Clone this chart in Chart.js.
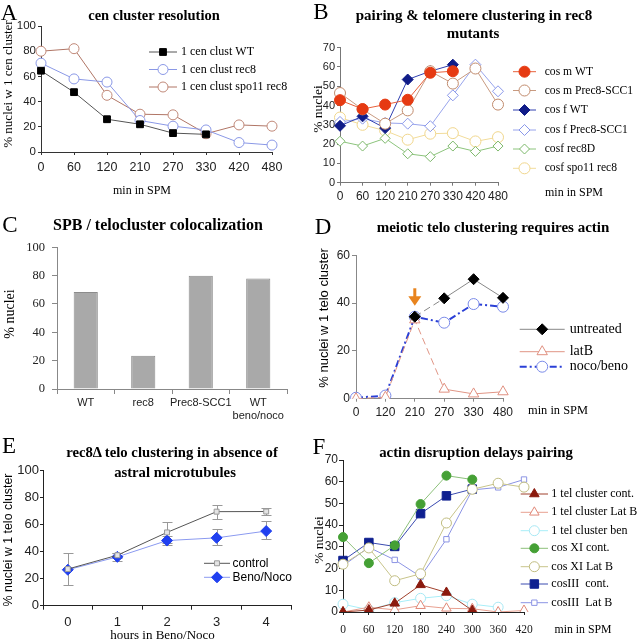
<!DOCTYPE html>
<html>
<head>
<meta charset="utf-8">
<script src="https://cdn.jsdelivr.net/npm/chart.js@4.4.0/dist/chart.umd.min.js"></script>
<style>
body { margin: 0; background: #fff; }
#fig { position: relative; width: 637px; height: 640px; overflow: hidden; background: #fff; }
#fig canvas { position: absolute; }
.t { position: absolute; white-space: nowrap; transform: translate(-50%, -50%); line-height: 1; color: #000; z-index: 2; }
.serif { font-family: "Liberation Serif", "Times New Roman", serif; }
.sans { font-family: "Liberation Sans", Arial, sans-serif; }
.b { font-weight: bold; }
.rot { transform: translate(-50%, -50%) rotate(-90deg); }
.letter { font-size: 23px; }
</style>
</head>
<body>
<div id="fig">
  <canvas id="cA" width="318" height="210" style="left:0;top:0"></canvas>
  <canvas id="cB" width="319" height="210" style="left:318px;top:0"></canvas>
  <canvas id="cC" width="318" height="210" style="left:0;top:210px"></canvas>
  <canvas id="cD" width="319" height="210" style="left:318px;top:210px"></canvas>
  <canvas id="cE" width="318" height="220" style="left:0;top:420px"></canvas>
  <canvas id="cF" width="319" height="220" style="left:318px;top:420px"></canvas>

  <!-- panel A -->
  <div class="t serif letter" style="left:9px;top:12px">A</div>
  <div class="t serif b" style="left:154px;top:15px;font-size:14.5px">cen cluster resolution</div>
  <div class="t serif rot" style="left:7px;top:84px;font-size:13px">% nuclei w 1 cen cluster</div>
  <div class="t serif" style="left:142px;top:190px;font-size:12px">min in SPM</div>

  <!-- panel B -->
  <div class="t serif letter" style="left:321px;top:11px">B</div>
  <div class="t serif b" style="left:474px;top:15px;font-size:15px">pairing &amp; telomere clustering in rec8</div>
  <div class="t serif b" style="left:473px;top:33px;font-size:15px">mutants</div>
  <div class="t serif rot" style="left:317.5px;top:109px;font-size:13.5px">% nuclei</div>
  <div class="t serif" style="left:574px;top:192px;font-size:12px">min in SPM</div>

  <!-- panel C -->
  <div class="t serif letter" style="left:10px;top:224px">C</div>
  <div class="t serif b" style="left:158px;top:225px;font-size:16px">SPB / telocluster colocalization</div>
  <div class="t serif rot" style="left:10px;top:314px;font-size:14px">% nuclei</div>

  <!-- panel D -->
  <div class="t serif letter" style="left:323px;top:226px">D</div>
  <div class="t serif b" style="left:493px;top:227px;font-size:15px">meiotic telo clustering requires actin</div>
  <div class="t sans rot" style="left:322.5px;top:318px;font-size:13px">% nuclei w 1 telo cluster</div>
  <div class="t serif" style="left:558px;top:410px;font-size:12.4px">min in SPM</div>

  <!-- panel E -->
  <div class="t serif letter" style="left:9px;top:445px">E</div>
  <div class="t serif b" style="left:172px;top:452px;font-size:14.7px">rec8&Delta; telo clustering in absence of</div>
  <div class="t serif b" style="left:175px;top:472px;font-size:14.7px">astral microtubules</div>
  <div class="t sans rot" style="left:8px;top:540px;font-size:12.4px">% nuclei w 1 telo cluster</div>
  <div class="t serif" style="left:162.5px;top:633.5px;font-size:13px">hours in Beno/Noco</div>

  <!-- panel F -->
  <div class="t serif letter" style="left:319px;top:446px">F</div>
  <div class="t serif b" style="left:476px;top:452px;font-size:14.8px">actin disruption delays pairing</div>
  <div class="t serif rot" style="left:319px;top:540px;font-size:13.5px">% nuclei</div>
  <div class="t serif" style="left:583px;top:629.5px;font-size:11.8px">min in SPM</div>
</div>

<script>
// A: cen cluster resolution
const minA = ['0', '60', '120', '210', '270', '330', '420', '480'];
const cenWT = [64.5, 47.5, 26, 22, 15, 14];
const cenRec8 = [70.5, 58, 55.5, 25, 20.5, 17.5, 7.5, 5.5];
const cenSpo11Rec8 = [80, 82, 45, 30, 29.5, 14.5, 21.5, 20.5];

// B: pairing & telomere clustering in rec8 mutants
const minB = ['0', '60', '120', '210', '270', '330', '420', '480'];
const cosmWT = [42.8, 38.2, 40.5, 43, 57, 57.8];
const cosmPrec8 = [46.5, 38, 30.6, 37.5, 57.8, 51.4, 59.2, 40.5];
const cosfWT = [29.5, 34.4, 28.3, 53.5, 57.8, 61.2];
const cosfPrec8 = [31.5, 33.2, 31, 30.6, 29.3, 45.3, 61.2, 47.4];
const cosfRec8D = [21.5, 19, 23, 15, 13.5, 19, 16.2, 19];
const cosfSpo11Rec8 = [33.8, 30, 27, 22.3, 25.4, 25.7, 21.4, 23.6];

// C: SPB / telocluster colocalization
const groupsC = ['WT', 'rec8', 'Prec8-SCC1', ['WT', 'beno/noco']];
const colocC = [68.5, 23.5, 80, 78];

// D: meiotic telo clustering requires actin
const minD = ['0', '120', '210', '270', '330', '480'];
const untreated = [null, null, 34.3, 42, 50, 42.2];
const latB = [0, 0.6, 33, 4, 2, 2.9];
const nocoBeno = [0.4, 1.3, 34.3, 31.8, 39.6, 38.5];
const arrowAt = '210';
const arrowFrom = 46.2;
const arrowTo = 38.9;

// E: rec8 telo clustering in absence of astral microtubules
const hoursE = ['0', '1', '2', '3', '4'];
const controlE = [27, 37.2, 54, 69.3, 69.4];
const controlLow = [15, 35.4, 46.4, 63.7, 66.5];
const controlHigh = [39, 39, 61.7, 74, 72.2];
const benoE = [26.5, 36, 48, 50, 55];
const benoLow = [26.5, 33, 44.7, 44.5, 48.9];
const benoHigh = [26.5, 39, 51, 56.8, 62.6];

// F: actin disruption delays pairing
const minF = ['0', '60', '120', '180', '240', '300', '360', '420'];
const telCont = [0, 0.9, 4, 12.5, 9, 0.7];
const telLatB = [0, 2.2, 1, 2.9, 1.7, 1.5, 0, 0.7];
const telBen = [3.6, 1, 4.3, 6.3, 7.5, 3.6, 2.2];
const cosXICont = [34.5, 22.5, 30.7, 49.7, 62.8, 61];
const cosXILatB = [22, 29.5, 14.4, 17.6, 41, 56.5, 59.3, 57.5];
const cosIIICont = [23.7, 32, 30.2, 45.3, 53.5, 56.6];
const cosIIILatB = [21.3, 29.8, 24, 16.3, 33.5, 56.2, 57.4, 61];

const SERIF = '"Liberation Serif", "Times New Roman", serif';
const SANS = '"Liberation Sans", Arial, sans-serif';

function drawMarker(ctx, style, x, y, r, fill, stroke, lw) {
    ctx.beginPath();
    if (style === 'rect') {
        const s = r * Math.SQRT1_2;
        ctx.rect(x - s, y - s, 2 * s, 2 * s);
    } else if (style === 'rectRot') {
        ctx.moveTo(x - r, y); ctx.lineTo(x, y - r); ctx.lineTo(x + r, y); ctx.lineTo(x, y + r);
        ctx.closePath();
    } else if (style === 'triangle') {
        let a = 0;
        ctx.moveTo(x + Math.sin(a) * r, y - Math.cos(a) * r);
        a += 2 * Math.PI / 3;
        ctx.lineTo(x + Math.sin(a) * r, y - Math.cos(a) * r);
        a += 2 * Math.PI / 3;
        ctx.lineTo(x + Math.sin(a) * r, y - Math.cos(a) * r);
        ctx.closePath();
    } else {
        ctx.arc(x, y, r, 0, Math.PI * 2);
    }
    ctx.fillStyle = fill; ctx.fill();
    ctx.lineWidth = lw; ctx.strokeStyle = stroke; ctx.stroke();
}

// legend drawn beside each panel, one row per dataset
const sideLegend = {
    id: 'sideLegend',
    afterDatasetsDraw(chart, args, o) {
        if (!o || !o.ys) return;
        const ctx = chart.ctx;
        ctx.save();
        chart.data.datasets.forEach((ds, k) => {
            const y = o.ys[k];
            ctx.strokeStyle = ds.borderColor;
            ctx.lineWidth = ds.borderWidth;
            ctx.setLineDash(ds.borderDash || []);
            ctx.beginPath(); ctx.moveTo(o.x0, y); ctx.lineTo(o.x1, y); ctx.stroke();
            ctx.setLineDash([]);
            drawMarker(ctx, ds.pointStyle, (o.x0 + o.x1) / 2, y, ds.pointRadius,
                ds.pointBackgroundColor, ds.pointBorderColor, ds.pointBorderWidth);
            ctx.fillStyle = '#000';
            ctx.font = o.font;
            ctx.textAlign = 'left';
            ctx.textBaseline = 'middle';
            ctx.fillText(ds.label, o.textX, y);
        });
        ctx.restore();
    }
};

function series(label, data, line, style, r, fill, mark, extra) {
    return Object.assign({
        label: label, data: data,
        borderColor: line, borderWidth: 1,
        pointStyle: style, pointRadius: r,
        pointBackgroundColor: fill, pointBorderColor: mark, pointBorderWidth: 1,
        tension: 0, fill: false
    }, extra || {});
}

function yAxis(box, min, max, step, font, color, tick, pad) {
    return {
        min: min, max: max,
        ticks: { stepSize: step, font: font, color: '#222', padding: pad },
        grid: { drawOnChartArea: false, tickLength: tick, color: color },
        border: { color: color },
        afterFit: s => { s.width = box.L; }
    };
}

function xAxis(box, H, font, color, tick, pad, offset) {
    return {
        offset: offset,
        ticks: { font: font, color: '#222', padding: pad, autoSkip: false, maxRotation: 0 },
        grid: { drawOnChartArea: false, tickLength: tick, color: color, offset: offset },
        border: { color: color },
        afterFit: s => { s.height = H - box.B; }
    };
}

function makeChart(id, type, labels, datasets, box, x, y, legend, extra) {
    const cv = document.getElementById(id);
    return new Chart(cv, {
        type: type,
        data: { labels: labels, datasets: datasets },
        options: {
            responsive: false,
            animation: false,
            devicePixelRatio: 1,
            layout: { padding: { left: 0, top: box.T, right: cv.width - box.R, bottom: 0 } },
            plugins: { legend: { display: false }, tooltip: { enabled: false }, sideLegend: legend || {} },
            scales: { x: x, y: y }
        },
        plugins: [sideLegend].concat(extra || [])
    });
}

// ---- A ----
const boxA = { L: 41, T: 26, R: 272, B: 152 };
makeChart('cA', 'line', minA, [
    series('1 cen clust WT', cenWT, '#555', 'rect', 4.8, '#000', '#000'),
    series('1 cen clust rec8', cenRec8, '#8a98e6', 'circle', 5, '#fff', '#8a98e6'),
    series('1 cen clust spo11 rec8', cenSpo11Rec8, '#b07565', 'circle', 5, '#fff', '#c08878')
], boxA,
    xAxis(boxA, 210, { family: SANS, size: 12.5 }, '#333', 3, 5.2, false),
    yAxis(boxA, 0, 100, 20, { family: SANS, size: 11.5 }, '#333', 3, 2),
    { x0: 149, x1: 177, textX: 181, ys: [52, 69.5, 87], font: '12px ' + SERIF });

// ---- B ----
const boxB = { L: 22, T: 47.7, R: 180, B: 182.7 };
makeChart('cB', 'line', minB, [
    series('cos m WT', cosmWT, '#e8603a', 'circle', 5.5, '#e63a12', '#e63a12'),
    series('cos m Prec8-SCC1', cosmPrec8, '#c89a80', 'circle', 5.5, '#fff', '#c08a6c'),
    series('cos f WT', cosfWT, '#3040b0', 'rectRot', 5.5, '#101c88', '#101c88'),
    series('cos f Prec8-SCC1', cosfPrec8, '#98a4ec', 'rectRot', 5.5, '#fff', '#8a98ea'),
    series('cosf rec8D', cosfRec8D, '#8cc47c', 'rectRot', 5, '#fff', '#7cb86a'),
    series('cosf spo11 rec8', cosfSpo11Rec8, '#f2dc9a', 'circle', 5.5, '#fff', '#f0d68c')
], boxB,
    xAxis(boxB, 210, { family: SANS, size: 12 }, '#777', 3, 3.8, false),
    yAxis(boxB, 0, 70, 10, { family: SANS, size: 11 }, '#777', 3, 2),
    { x0: 195, x1: 218, textX: 226.7, ys: [71.7, 90.5, 110, 130, 149, 168.3], font: '11.6px ' + SERIF });

// ---- C ----
const boxC = { L: 57, T: 37.3, R: 287, B: 179 };
makeChart('cC', 'bar', groupsC, [{
    label: '% nuclei', data: colocC,
    backgroundColor: '#a9a9a9', borderColor: '#8c8c8c', borderWidth: 1,
    barPercentage: 0.42, categoryPercentage: 1
}], boxC,
    xAxis(boxC, 210, { family: SANS, size: 11, lineHeight: 1.15 }, '#888', 5, 2.7, true),
    yAxis(boxC, 0, 100, 20, { family: SERIF, size: 12.5 }, '#888', 5, 7));

// ---- D ----
const boxD = { L: 38, T: 45.3, R: 185, B: 188.7 };
const arrowPlugin = {
    id: 'arrowMark',
    afterDatasetsDraw(chart) {
        const ctx = chart.ctx, xs = chart.scales.x, ys = chart.scales.y;
        const x = xs.getPixelForValue(minD.indexOf(arrowAt));
        const yTop = ys.getPixelForValue(arrowFrom), yTip = ys.getPixelForValue(arrowTo);
        const head = 9.5;
        ctx.save();
        ctx.fillStyle = '#e8841e';
        ctx.fillRect(x - 1.5, yTop, 3, yTip - yTop - head + 1);
        ctx.beginPath();
        ctx.moveTo(x - 6.5, yTip - head); ctx.lineTo(x + 6.5, yTip - head); ctx.lineTo(x, yTip);
        ctx.closePath(); ctx.fill();
        ctx.restore();
    }
};
makeChart('cD', 'line', minD, [
    series('untreated', untreated, '#888', 'rectRot', 5.5, '#000', '#000', {
        segment: { borderDash: c => c.p0DataIndex === 2 ? [7, 4] : undefined }
    }),
    series('latB', latB, '#e09585', 'triangle', 6, '#fff', '#e09080', {
        segment: { borderDash: c => c.p0DataIndex < 3 ? [7, 4] : undefined }
    }),
    series('noco/beno', nocoBeno, '#2a3fd6', 'circle', 5.5, '#fff', '#7a8ae8', {
        borderWidth: 2, borderDash: [7, 3, 2, 3]
    })
], boxD,
    xAxis(boxD, 210, { family: SANS, size: 12 }, '#888', 3, 3.8, false),
    yAxis(boxD, 0, 60, 20, { family: SANS, size: 12 }, '#888', 4, 2),
    { x0: 201.7, x1: 246.7, textX: 251.7, ys: [119.3, 141.7, 156.7], font: '14px ' + SERIF },
    [arrowPlugin]);

// ---- E ----
const boxE = { L: 43, T: 50, R: 291, B: 185.7 };
const errorBars = {
    id: 'errorBars',
    beforeDatasetsDraw(chart) {
        const ctx = chart.ctx, xs = chart.scales.x, ys = chart.scales.y;
        ctx.save();
        ctx.strokeStyle = '#999';
        ctx.lineWidth = 1;
        [[controlLow, controlHigh], [benoLow, benoHigh]].forEach(pair => {
            const lo = pair[0], hi = pair[1];
            lo.forEach((v, i) => {
                if (hi[i] - v < 0.5) return;
                const x = Math.round(xs.getPixelForValue(i)) + 0.5;
                const y1 = Math.round(ys.getPixelForValue(v)) + 0.5;
                const y2 = Math.round(ys.getPixelForValue(hi[i])) + 0.5;
                ctx.beginPath();
                ctx.moveTo(x, y1); ctx.lineTo(x, y2);
                ctx.moveTo(x - 5, y1); ctx.lineTo(x + 5, y1);
                ctx.moveTo(x - 5, y2); ctx.lineTo(x + 5, y2);
                ctx.stroke();
            });
        });
        ctx.restore();
    }
};
makeChart('cE', 'line', hoursE, [
    series('control', controlE, '#555', 'rect', 3.5, '#e4e4e4', '#999'),
    series('Beno/Noco', benoE, '#8b9af0', 'rectRot', 5.5, '#2040f0', '#2040f0')
], boxE,
    xAxis(boxE, 220, { family: SANS, size: 13 }, '#222', 4, 5.2, true),
    yAxis(boxE, 0, 100, 20, { family: SANS, size: 13 }, '#222', 3, 1),
    { x0: 204, x1: 230, textX: 232.5, ys: [143.3, 157.3], font: '12px ' + SANS },
    [errorBars]);

// ---- F ----
const boxF = { L: 25, T: 40, R: 206, B: 192 };
makeChart('cF', 'line', minF, [
    series('1 tel cluster cont.', telCont, '#a0402c', 'triangle', 5.5, '#8b1a0e', '#8b1a0e'),
    series('1 tel cluster Lat B', telLatB, '#e8a090', 'triangle', 5.5, '#fff', '#e08878'),
    series('1 tel cluster ben', telBen, '#a8eef8', 'circle', 5, '#fff', '#a8e8f4'),
    series('cos XI cont.', cosXICont, '#8cc07a', 'circle', 4.5, '#45a035', '#45a035'),
    series('cos XI Lat B', cosXILatB, '#c8c48a', 'circle', 5, '#fff', '#c0bc80'),
    series('cosIII  cont.', cosIIICont, '#3a4ab0', 'rect', 6, '#0f2090', '#0f2090'),
    series('cosIII  Lat B', cosIIILatB, '#8c94e4', 'rect', 3.8, '#fff', '#8c94e4')
], boxF,
    xAxis(boxF, 220, { family: SERIF, size: 11.5 }, '#222', 3, 8.1, false),
    yAxis(boxF, 0, 70, 10, { family: SANS, size: 12 }, '#222', 4, 1),
    { x0: 202.7, x1: 230, textX: 233.3, ys: [74, 92.3, 110.7, 128.3, 146.7, 164, 182.7], font: '12px ' + SERIF });
</script>
</body>
</html>
